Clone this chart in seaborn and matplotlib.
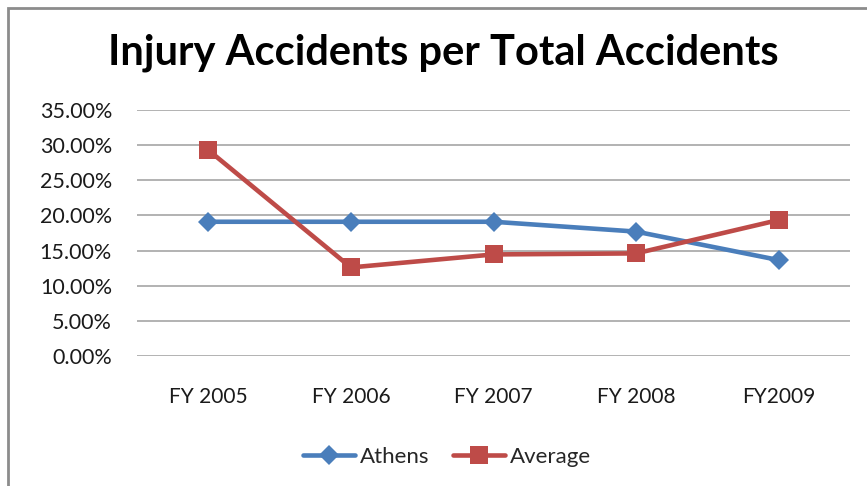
import matplotlib
matplotlib.use("Agg")
import matplotlib.pyplot as plt
import seaborn as sns
import pandas as pd
from matplotlib.ticker import FuncFormatter, MultipleLocator
from matplotlib.patches import Rectangle
from matplotlib.lines import Line2D

categories = ["FY 2005", "FY 2006", "FY 2007", "FY 2008", "FY2009"]
athens = [0.191, 0.191, 0.191, 0.177, 0.1365]
average = [0.293, 0.126, 0.1445, 0.146, 0.1935]
series_names = ["Athens", "Average"]

df = pd.DataFrame({
    "cat": categories * 2,
    "x": list(range(len(categories))) * 2,
    "val": athens + average,
    "series": [series_names[0]] * len(categories) + [series_names[1]] * len(categories),
})

sns.set_theme(style="white")
plt.rcParams["font.family"] = ["Lato", "DejaVu Sans"]

fig = plt.figure(figsize=(8.67, 4.86), dpi=100)
fig.patch.set_facecolor("white")
ax = fig.add_axes([137/867, 1 - 356/486, (850-137)/867, (356-110)/486])

palette = {"Athens": "#4A7EBB", "Average": "#BE4B48"}
markers = {"Athens": "D", "Average": "s"}
sizes = {"Athens": 10.5, "Average": 12.5}
for name in series_names:
    sub = df[df.series == name]
    sns.lineplot(data=sub, x="x", y="val", ax=ax, color=palette[name], linewidth=3.3,
                 marker=markers[name], markersize=sizes[name], markeredgewidth=0,
                 legend=False, zorder=3)

ax.set_xlim(-0.5, 4.5)
ax.set_ylim(0, 0.35)
ax.yaxis.set_major_locator(MultipleLocator(0.05))
ax.yaxis.set_major_formatter(FuncFormatter(lambda v, p: f"{v*100:.2f}%"))
ax.set_xticks(range(len(categories)))
ax.set_xticklabels(categories)
ax.grid(axis="y", color="#A6A6A6", linewidth=1.2)
ax.grid(axis="x", visible=False)
ax.set_axisbelow(True)
for s in ax.spines.values():
    s.set_visible(False)
ax.tick_params(axis="y", length=0, pad=18, labelsize=15.5, labelcolor="#1a1a1a")
ax.tick_params(axis="x", length=0, pad=22, labelsize=15, labelcolor="#1a1a1a")
ax.set_xlabel("")
ax.set_ylabel("")

fig.text(443/867, 1 - 53/486, "Injury Accidents per Total Accidents", ha="center", va="center",
         fontsize=30, fontweight="bold", color="black", family=["Lato", "DejaVu Sans"])

handles = [Line2D([], [], color=palette[n], marker=markers[n], linewidth=3.3,
                  markersize=sizes[n], markeredgewidth=0) for n in series_names]
fig.legend(handles, series_names, loc="center", bbox_to_anchor=(447/867, 1 - 457/486),
           ncol=2, frameon=False, fontsize=16, handlelength=2.35, columnspacing=1.08,
           handletextpad=0.22)

fig.add_artist(Rectangle((8/867, -0.1), 1.2, 1 - 8/486 + 0.1, transform=fig.transFigure,
                         fill=False, edgecolor="#8C8C8C", linewidth=2))

fig.savefig("out.png", dpi=100, facecolor="white")
